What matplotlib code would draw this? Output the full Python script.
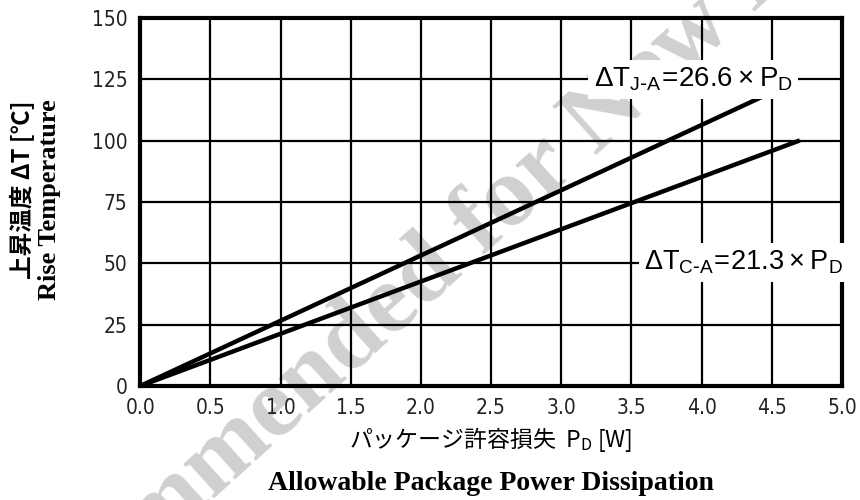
import matplotlib
matplotlib.use("Agg")
import matplotlib.pyplot as plt

# data
pd_ja = [0.0, 4.5]
dt_ja = [0.0, 119.7]
pd_ca = [0.0, 4.7]
dt_ca = [0.0, 100.1]
x_ticks = [0.0, 0.5, 1.0, 1.5, 2.0, 2.5, 3.0, 3.5, 4.0, 4.5, 5.0]
y_ticks = [0, 25, 50, 75, 100, 125, 150]

fig = plt.figure(figsize=(8.6, 5.0), dpi=100)
ax = fig.add_axes([0.163, 0.228, 0.816, 0.736])
ax.set_facecolor('none')

# watermark behind everything
fig.text(0.463, 0.40, "Not Recommended for New Design", rotation=42,
         ha='center', va='center', fontsize=72, fontweight='bold',
         family='Liberation Serif', color='#d0d0d0', zorder=-5)

ax.plot(pd_ja, dt_ja, color='black', lw=3.2, solid_capstyle='butt', zorder=4)
ax.plot(pd_ca, dt_ca, color='black', lw=3.2, solid_capstyle='butt', zorder=4)

ax.set_xlim(0, 5)
ax.set_ylim(0, 150)
ax.set_xticks(x_ticks)
ax.set_xticklabels(["%.1f" % v for v in x_ticks])
ax.set_yticks(y_ticks)
ax.grid(True, color='black', lw=1.6)
ax.tick_params(length=0, pad=9, labelsize=15)
for lab in ax.get_xticklabels() + ax.get_yticklabels():
    lab.set_family('DejaVu Sans')
    lab.set_stretch('condensed')
    lab.set_color('#222222')
for s in ax.spines.values():
    s.set_linewidth(3)

box = dict(facecolor='white', edgecolor='none', pad=4)
ax.text(3.94, 125, r'$\mathregular{\Delta T_{J\text{-}A}\!=\!26.6\times P_D}$',
        fontsize=20, family='Liberation Sans', ha='center', va='center',
        bbox=box, zorder=5)
ax.text(4.3, 50.5, r'$\mathregular{\Delta T_{C\text{-}A}\!=\!21.3\times P_D}$',
        fontsize=19.5, family='Liberation Sans', ha='center', va='center',
        bbox=box, zorder=5, clip_on=False)

# y label, two lines
fig.text(0.026, 0.62, "上昇温度 ΔT [℃]", rotation=90, ha='center', va='center',
         fontsize=17, fontweight='bold', family=['Noto Sans CJK JP', 'DejaVu Sans'])
fig.text(0.058, 0.60, "Rise Temperature", rotation=90, ha='center', va='center',
         fontsize=19, fontweight='bold', family='Liberation Serif')

# x label, two lines
fig.text(0.571, 0.12, "パッケージ許容損失  $\\mathregular{P_D}$ [W]", ha='center', va='center',
         fontsize=16.5, family=['Noto Sans CJK JP', 'DejaVu Sans'])
fig.text(0.571, 0.034, "Allowable Package Power Dissipation", ha='center', va='center',
         fontsize=20, fontweight='bold', family='Liberation Serif')

fig.savefig("out.png", dpi=100)
